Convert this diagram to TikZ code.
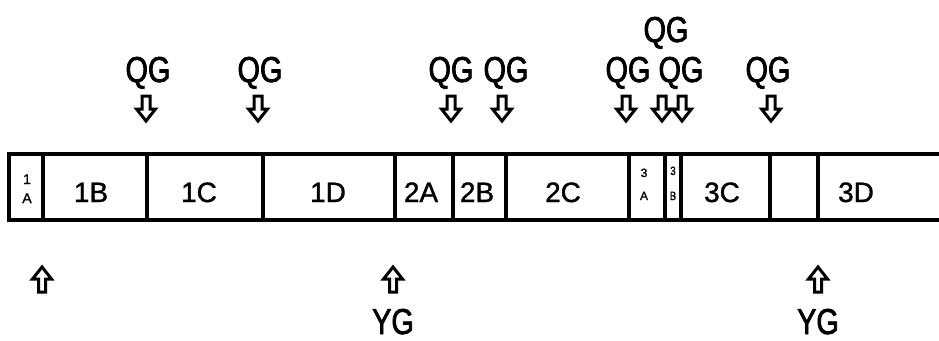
\documentclass[tikz,border=0pt]{standalone}
\usepackage{fontspec}
\setmainfont{Liberation Sans}
\newfontfamily\narrowsans[FakeStretch=0.8,FakeBold=2]{Liberation Sans}
\newfontfamily\heavysans[FakeBold=1.2]{Liberation Sans}
\begin{document}
\begin{tikzpicture}[x=1pt,y=-1pt,
  barline/.style={line width=3.2pt},
  seglabel/.style={anchor=base,inner sep=0pt,font=\heavysans\fontsize{28}{30}\selectfont},
  tinylabel/.style={anchor=base,inner sep=0pt,font=\heavysans\fontsize{14}{15}\selectfont},
  minilabel/.style={anchor=base,inner sep=0pt,font=\heavysans\fontsize{12}{13}\selectfont},
  gauge/.style={anchor=base,inner sep=0pt,font=\narrowsans\fontsize{36}{38}\selectfont},
  hollow/.style={draw=black,fill=white,line width=3pt,line join=miter},
  downarrow/.pic={\path[hollow] (-4,0) -- (4,0) -- (4,13) -- (9.5,13) -- (0,25) -- (-9.5,13) -- (-4,13) -- cycle;},
  uparrow/.pic={\path[hollow] (-3.5,26) -- (3.5,26) -- (3.5,13) -- (9.5,13) -- (0,1) -- (-9.5,13) -- (-3.5,13) -- cycle;}
]
\useasboundingbox[fill=white] (0,0) rectangle (939,340);

% the segmented strip
\draw[barline] (939,154) -- (9,154) -- (9,220) -- (939,220);
\foreach \xb in {43,147,263,395,453,506,629,665,681,770,818}
  \draw[barline] (\xb,154) -- (\xb,220);

% segment names
\node[tinylabel] (s1Atop) at (27,184) {1};
\node[tinylabel] (s1A) at (27,203) {A};
\node[seglabel] (s1B) at (91,202) {1B};
\node[seglabel] (s1C) at (199,202) {1C};
\node[seglabel] (s1D) at (328,202) {1D};
\node[seglabel] (s2A) at (421,202) {2A};
\node[seglabel] (s2B) at (477,202) {2B};
\node[seglabel] (s2C) at (563,202) {2C};
\node[minilabel] (s3Atop) at (644,177) {3};
\node[minilabel] (s3A) at (644,200) {A};
\node[minilabel,xscale=0.8] (s3Btop) at (673,175) {3};
\node[minilabel,xscale=0.8] (s3B) at (673,200) {B};
\node[seglabel] (s3C) at (722,202) {3C};
\node[seglabel] (s3D) at (856,202) {3D};

% QG markers above the strip
\node[gauge] (q1) at (148,82) {QG};
\node[gauge] (q2) at (260,82) {QG};
\node[gauge] (q3) at (451,82) {QG};
\node[gauge] (q4) at (506,82) {QG};
\node[gauge] (q5) at (628,82) {QG};
\node[gauge] (q6) at (681,82) {QG};
\node[gauge] (q7) at (666,42) {QG};
\node[gauge] (q8) at (768,82) {QG};

\foreach \xa in {146,258,451,502,626,662,682,771}
  \pic at (\xa,96) {downarrow};

% YG markers below the strip
\foreach \xa in {42,393,818}
  \pic at (\xa,266) {uparrow};
\node[gauge] (y1) at (393,334) {YG};
\node[gauge] (y2) at (818,334) {YG};
\end{tikzpicture}
\end{document}
